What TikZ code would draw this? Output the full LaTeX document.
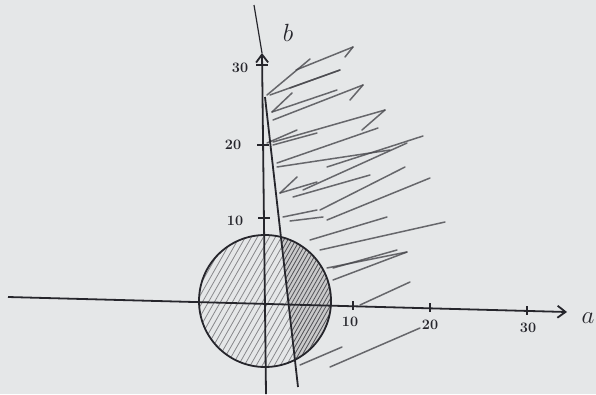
\documentclass[tikz,border=0pt]{standalone}
\usetikzlibrary{arrows.meta}

\definecolor{paper}{RGB}{229,231,232}
\definecolor{ink}{RGB}{38,38,44}

\begin{document}
\begin{tikzpicture}[
x=1pt,y=-1pt,
>={Straight Barb[length=8pt,width=12pt]},
axis/.style={draw=ink,line width=1.8pt},
tick/.style={draw=ink,line width=1.3pt},
num/.style={text=ink,font=\Large\bfseries},
var/.style={text=ink,font=\fontsize{34}{38}\selectfont},
scribble/.style={draw=ink!85,line width=1.5pt,line cap=round,opacity=.8},
hatch/.style={draw=ink!55,line width=0.8pt}
]
\fill[paper] (0,0) rectangle (596,394);
\useasboundingbox (0,0) rectangle (596,394);

% points
\coordinate (O) at (265,301);
\coordinate (ax0) at (8,297);
\coordinate (ax1) at (567,312);
\coordinate (by0) at (266,394);
\coordinate (by1) at (262,53);
\coordinate (bytop) at (254,5);
\coordinate (l0) at (265,97);
\coordinate (l1) at (298,387);

% hatched disc
\begin{scope}
\clip (O) circle[radius=66];
\foreach \x in {-110,-104,...,110}
  \draw[hatch] ({265+\x-45},380) -- ({265+\x+45},222);
\end{scope}

% dark part of the disc, right of the line
\begin{scope}
\clip (O) circle[radius=66];
\clip (l0) -- (l1) -- (400,387) -- (400,97) -- cycle;
\fill[ink!25] (200,220) rectangle (400,390);
\foreach \x in {-60,-56,...,120}
  \draw[hatch,draw=ink!80] ({265+\x-45},380) -- ({265+\x+45},222);
\end{scope}

% scribbles to the right of the line
\foreach \a/\b/\c/\d in {267/95/310/59, 296/70/353/47, 270/95/340/70,
  272/112/337/90, 272/112/292/93, 273/120/363/85, 273/142/385/110,
  267/143/297/130, 273/145/317/133, 277/163/378/128, 327/167/423/136,
  277/167/390/150, 303/190/407/143, 293/197/370/175, 280/193/297/177,
  280/193/317/182, 320/210/405/167, 327/220/430/178, 283/217/317/210,
  290/221/323/217, 310/240/387/217, 320/250/445/222, 327/268/407/252,
  333/268/397/250, 333/280/407/252, 360/305/410/282, 330/367/420/328,
  300/365/342/347}
  \draw[scribble] (\a,\b) -- (\c,\d);
% hooks at the ends
\foreach \a/\b/\c/\d in {353/47/345/57, 340/70/290/88, 363/85/350/100,
  385/110/362/130}
  \draw[scribble] (\a,\b) -- (\c,\d);

% axes
\draw[axis,->] (ax0) -- (ax1);
\draw[axis,->] (by0) -- (by1);
\draw[axis,line width=1.2pt] (by1) -- (bytop);
\draw[axis] (O) circle[radius=66];
\draw[axis] (l0) -- (l1);

% ticks
\foreach \x/\y in {353/306, 430/308, 527/311}
  \draw[tick] (\x,\y-5) -- (\x,\y+4);
\foreach \y/\x in {65/262, 145/263, 218/264}
  \draw[tick] (\x-6,\y) -- (\x+6,\y);

% labels
\node[num] (h10) at (350,322) {10};
\node[num] (h20) at (430,325) {20};
\node[num] (h30) at (528,328) {30};
\node[num] (v10) at (235,221) {10};
\node[num] (v20) at (233,145) {20};
\node[num] (v30) at (240,68) {30};
\node[var] (a) at (588,318) {$a$};
\node[var] (b) at (288,33) {$b$};

\end{tikzpicture}
\end{document}
